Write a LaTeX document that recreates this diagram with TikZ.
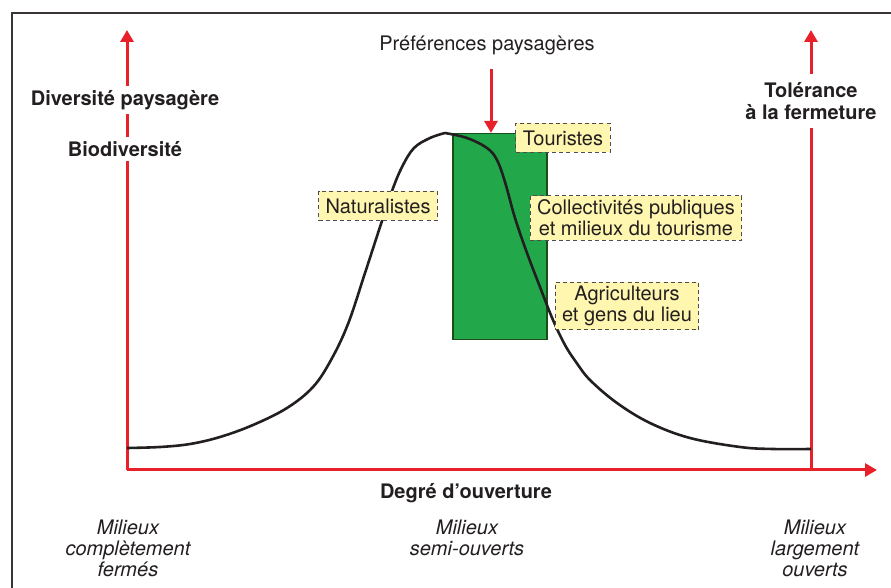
\documentclass[tikz,border=0pt]{standalone}
\usepackage{fontspec}
\setmainfont{TeX Gyre Heros}
\usetikzlibrary{arrows.meta}

\definecolor{axisred}{HTML}{E8202A}
\definecolor{labelyellow}{HTML}{FFF6B0}
\definecolor{pinegreen}{HTML}{22A84A}
\definecolor{inkgray}{HTML}{231F20}

\begin{document}
\begin{tikzpicture}[
    x=0.5pt, y=-0.5pt,
    every node/.style={text=inkgray, font=\fontsize{10}{10.5}\selectfont, align=center},
    axis/.style={draw=axisred, line width=1.5pt},
    axisarrow/.style={axis, -{Triangle[width=6.5pt,length=6pt]}},
    group/.style={fill=labelyellow, draw=inkgray!80, dashed, dash pattern=on 2pt off 1.6pt,
                  line width=0.5pt, inner xsep=3.5pt, inner ysep=2pt, minimum height=14.5pt},
    axislabel/.style={font=\bfseries\fontsize{10}{11}\selectfont, fill=white, inner sep=2pt},
    milieu/.style={font=\itshape\fontsize{10}{10.5}\selectfont}]

\useasboundingbox (0,0) rectangle (891,588);

% frame
\draw[draw=inkgray!90, line width=1pt] (12,600) -- (12,13) -- (900,13);

% axes
\coordinate (origin) at (127,470);
\coordinate (leftTop) at (127,30);
\coordinate (rightBase) at (811,470);
\coordinate (rightTop) at (811,30);
\coordinate (xEnd) at (877,470);
\draw[axisarrow] (origin) -- (leftTop);
\draw[axisarrow] (rightBase) -- (rightTop);
\draw[axisarrow] (origin) -- (xEnd);

% preferred zone
\node[draw=inkgray!80!green, fill=pinegreen, line width=0.6pt, minimum width=47pt,
      minimum height=103pt, inner sep=0pt] (zone) at (500,236.5) {};

% curve
\draw[inkgray, line width=1.3pt, line join=round] plot[smooth, tension=0.6] coordinates {
    (127,448) (160,447) (190,444) (220,437) (253,425) (287,408) (313,387)
    (331,360) (348,324) (365,273) (380,227) (392,191) (402,167) (414,148)
    (430,138) (445,133)}
  plot[smooth, tension=0.6] coordinates {
    (445,133) (467,138) (487,148) (497,160) (505,182) (515,218) (527,253)
    (540,287) (553,320) (565,345) (576,362) (590,380) (617,403) (650,423)
    (690,438) (740,447) (773,449) (811,449)};

% preference arrow
\node (pref) at (487,45) {Préférences paysagères};
\coordinate (prefTail) at (491,69);
\draw[axisarrow] (prefTail) -- (prefTail |- zone.north);

% groups
\node[group] (tourists) at (563,138) {Touristes};
\node[group] (naturalists) at (378,206) {Naturalistes};
\node[group] (officials) at (636,218) {Collectivités publiques\\et milieux du tourisme};
\node[group] (farmers) at (627,306) {Agriculteurs\\et gens du lieu};

% axis labels
\node[axislabel] (diversity) at (125,100) {Diversité paysagère};
\node[axislabel] (biodiversity) at (125,149) {Biodiversité};
\node[axislabel, inner ysep=4pt] (tolerance) at (811,101) {Tolérance\\à la fermeture};
\node[axislabel, fill=none] (opening) at (466,493) {Degré d’ouverture};

% kinds of land
\node[milieu] (closed) at (128,548) {Milieux\\complètement\\fermés};
\node[milieu] (halfopen) at (467,537.5) {Milieux\\semi-ouverts};
\node[milieu] (open) at (815,548) {Milieux\\largement\\ouverts};

\end{tikzpicture}
\end{document}
